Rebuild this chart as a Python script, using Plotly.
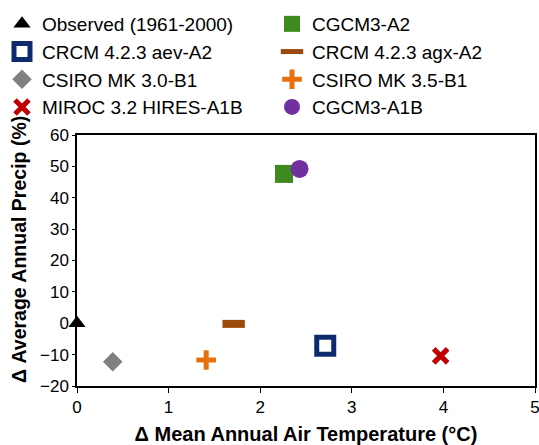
import plotly.graph_objects as go

names = ["Observed (1961-2000)", "CGCM3-A2", "CRCM 4.2.3 aev-A2", "CRCM 4.2.3 agx-A2",
         "CSIRO MK 3.0-B1", "CSIRO MK 3.5-B1", "MIROC 3.2 HIRES-A1B", "CGCM3-A1B"]
temp = [0.0, 2.26, 2.71, 1.71, 0.39, 1.41, 3.97, 2.43]
precip = [0.0, 47.6, -7.2, -0.2, -12.3, -11.7, -10.4, 49.2]
x_title = "Δ Mean Annual Air Temperature (°C)"
y_title = "Δ Average Annual Precip (%)"

symbols = ["triangle-up", "square", "square-open", "line-ew", "diamond", "cross-thin", "x-thin", "circle"]
colors = ["#000000", "#3F8A1E", "#0E2A6E", "#9C4A0C", "#808080", "#E8700C", "#C00000", "#7030A0"]
sizes = [15, 18, 17, 16, 15, 14, 14, 18]
lwidths = [0, 0, 5, 8, 0, 5, 5, 0]
legends = ["legend", "legend2", "legend", "legend2", "legend", "legend2", "legend", "legend2"]

fig = go.Figure()
for i, n in enumerate(names):
    fig.add_trace(go.Scatter(
        x=[temp[i]], y=[precip[i]], mode="markers", name=n,
        legend=legends[i], legendgroup=n,
        marker=dict(symbol=symbols[i], size=sizes[i], color=colors[i],
                    line=dict(color=colors[i], width=lwidths[i])),
        cliponaxis=False,
    ))

font = "Liberation Sans, Arial, sans-serif"
legcommon = dict(font=dict(family=font, size=19, color="#000000"), bgcolor="rgba(0,0,0,0)",
                 xref="container", yref="container", yanchor="top", xanchor="left",
                 tracegroupgap=0, traceorder="grouped", itemsizing="trace")

fig.update_layout(
    width=539, height=445,
    margin=dict(l=77, r=4, t=135, b=59, autoexpand=False),
    paper_bgcolor="white", plot_bgcolor="white",
    font=dict(family=font, size=17, color="#000000"),
    showlegend=True,
    legend=dict(x=2/539, y=1 - 5/445, **legcommon),
    legend2=dict(x=272/539, y=1 - 5/445, **legcommon),
    xaxis=dict(range=[0, 5], dtick=1, tick0=0, showgrid=False, zeroline=False,
               showline=True, linecolor="#000000", linewidth=1.5, mirror=True,
               ticks="outside", ticklen=5, tickcolor="#000000",
               ticklabeloverflow="allow",
               title=dict(text="<b>" + x_title + "</b>", font=dict(size=20))),
    yaxis=dict(range=[-20, 60], dtick=10, tick0=0, showgrid=False, zeroline=False,
               showline=True, linecolor="#000000", linewidth=1.5, mirror=True,
               ticks="outside", ticklen=3, tickcolor="#000000",
               ticklabeloverflow="allow"),
    annotations=[dict(text="<b>" + y_title + "</b>", textangle=-90,
                      xref="paper", yref="paper", x=0, y=(386 - 250) / 251,
                      xanchor="center", yanchor="middle", xshift=-58,
                      showarrow=False, font=dict(size=19.5, family=font, color="#000000"))],
)

fig.write_html("out.html", config={"displayModeBar": False},
               post_script="document.body.style.margin='0';")
